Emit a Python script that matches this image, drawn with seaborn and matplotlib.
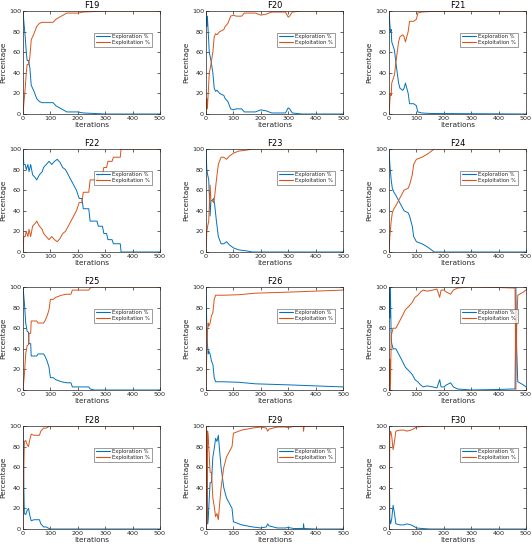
import matplotlib
matplotlib.use("Agg")
import matplotlib.pyplot as plt
import seaborn as sns
import pandas as pd

# ---- data: exploration % breakpoints (iteration, value); exploitation = 100 - exploration
titles = ["F19", "F20", "F21", "F22", "F23", "F24", "F25", "F26", "F27", "F28", "F29", "F30"]

f19_it = [0, 3, 8, 12, 15, 20, 25, 30, 40, 50, 60, 70, 110, 120, 140, 160, 200, 220, 260, 300, 500]
f19_ex = [100, 90, 75, 60, 52, 52, 45, 28, 22, 15, 12, 11, 11, 8, 5, 2, 2, 1, 0.5, 0, 0]

f20_it = [0, 3, 5, 8, 12, 18, 25, 30, 35, 40, 50, 65, 70, 80, 90, 100, 110, 130, 140, 180, 190, 200, 220, 240, 290, 300, 305, 315, 350, 500]
f20_ex = [100, 85, 95, 80, 60, 52, 40, 25, 22, 23, 20, 18, 15, 12, 5, 4, 5, 5, 2, 2, 3, 4, 3, 1, 1, 6, 5, 1, 0, 0]

f21_it = [0, 5, 8, 10, 15, 20, 25, 30, 35, 40, 50, 55, 60, 65, 70, 75, 90, 100, 105, 120, 150, 500]
f21_ex = [100, 80, 82, 70, 66, 62, 50, 40, 30, 25, 23, 25, 30, 25, 20, 10, 10, 8, 2, 1, 0.5, 0]

f22_it = [0, 3, 8, 12, 18, 22, 28, 35, 45, 50, 60, 70, 75, 85, 95, 105, 115, 125, 135, 145, 155, 165, 175, 185, 195, 205, 215, 220, 240, 245, 270, 275, 290, 295, 305, 310, 325, 330, 355, 358, 500]
f22_ex = [100, 85, 85, 80, 85, 78, 85, 75, 72, 70, 75, 78, 82, 85, 88, 85, 88, 90, 87, 82, 80, 75, 70, 65, 60, 52, 52, 42, 42, 30, 30, 25, 25, 18, 18, 12, 12, 8, 8, 0, 0]

f23_it = [0, 3, 6, 10, 15, 18, 22, 28, 32, 38, 45, 55, 65, 75, 85, 100, 120, 150, 170, 500]
f23_ex = [100, 80, 75, 70, 35, 50, 50, 52, 45, 30, 15, 8, 8, 10, 7, 4, 2, 1, 0, 0]

f24_it = [0, 3, 8, 12, 18, 25, 35, 45, 55, 70, 75, 85, 90, 100, 120, 140, 150, 160, 165, 500]
f24_ex = [100, 85, 70, 62, 58, 55, 50, 45, 40, 38, 35, 25, 15, 10, 8, 5, 3, 1, 0, 0]

f25_it = [0, 5, 10, 15, 20, 22, 28, 30, 50, 55, 75, 80, 88, 95, 100, 110, 120, 140, 160, 175, 180, 240, 245, 260, 500]
f25_ex = [100, 85, 65, 57, 56, 45, 45, 33, 33, 35, 35, 33, 28, 22, 12, 12, 10, 8, 7, 7, 3, 3, 1, 0, 0]

f26_it = [0, 3, 5, 8, 10, 15, 20, 25, 30, 35, 60, 120, 180, 300, 400, 500]
f26_ex = [100, 60, 45, 35, 38, 35, 28, 25, 12, 8, 8, 7.5, 6, 5, 4, 3]

f27_it = [0, 3, 5, 8, 10, 15, 25, 35, 45, 60, 75, 85, 95, 105, 115, 125, 140, 160, 175, 185, 190, 200, 210, 225, 235, 250, 300, 400, 455, 460, 463, 466, 470, 490, 500]
f27_ex = [100, 70, 100, 50, 45, 40, 40, 35, 30, 22, 18, 15, 10, 8, 5, 3, 4, 3, 2, 10, 3, 3, 5, 7, 3, 1, 0, 0.5, 1, 1, 100, 40, 8, 5, 3]

f28_it = [0, 3, 5, 10, 15, 20, 25, 30, 40, 55, 60, 65, 75, 85, 95, 100, 500]
f28_ex = [100, 40, 15, 14, 18, 20, 13, 8, 9, 9, 9, 5, 2, 2, 0.5, 0, 0]

f29_it = [0, 2, 4, 6, 8, 15, 20, 25, 30, 35, 40, 45, 50, 55, 60, 65, 75, 85, 95, 100, 110, 130, 150, 170, 200, 220, 225, 230, 260, 290, 300, 320, 355, 356, 358, 400, 500]
f29_ex = [100, 0, 95, 5, 10, 45, 45, 70, 78, 88, 85, 91, 75, 60, 50, 40, 30, 25, 20, 7, 6, 4, 3, 2, 1, 2, 5, 3, 1, 1, 1.5, 0.5, 0.5, 5, 0.5, 0, 0]

f30_it = [0, 3, 6, 10, 15, 20, 25, 40, 55, 65, 80, 95, 100, 120, 150, 500]
f30_ex = [100, 10, 5, 10, 23, 15, 5, 4, 4, 5, 4, 2, 1, 0.5, 0, 0]

panels = [
    (f19_it, f19_ex), (f20_it, f20_ex), (f21_it, f21_ex),
    (f22_it, f22_ex), (f23_it, f23_ex), (f24_it, f24_ex),
    (f25_it, f25_ex), (f26_it, f26_ex), (f27_it, f27_ex),
    (f28_it, f28_ex), (f29_it, f29_ex), (f30_it, f30_ex),
]

x_ticks = [0, 100, 200, 300, 400, 500]
y_ticks = [0, 20, 40, 60, 80, 100]
series_names = ["Exploration %", "Exploitation %"]
colors = {"Exploration %": "#0072BD", "Exploitation %": "#D95319"}

# ---- style
sns.set_theme(style="white")
plt.rcParams.update({
    "font.family": ["DejaVu Sans"],
    "xtick.direction": "in",
    "ytick.direction": "in",
    "xtick.major.size": 2,
    "ytick.major.size": 2,
    "xtick.major.width": 0.5,
    "ytick.major.width": 0.5,
    "xtick.major.pad": 1.5,
    "ytick.major.pad": 1.5,
    "xtick.bottom": True,
    "ytick.left": True,
    "xtick.top": True,
    "ytick.right": True,
    "axes.edgecolor": "#262626",
    "axes.linewidth": 0.5,
})

W, H = 532, 550
fig = plt.figure(figsize=(W / 100, H / 100), dpi=100)

col_left = [23, 206, 389]
row_top = [11, 149, 287, 426]
ax_w, ax_h = 137, 103

for i, (it, ex) in enumerate(panels):
    r, c = divmod(i, 3)
    left = col_left[c] / W
    bottom = 1 - (row_top[r] + ax_h) / H
    ax = fig.add_axes([left, bottom, ax_w / W, ax_h / H])
    df = pd.DataFrame({
        "Iterations": list(it) + list(it),
        "Percentage": list(ex) + [100 - v for v in ex],
        "Series": [series_names[0]] * len(it) + [series_names[1]] * len(it),
    })
    sns.lineplot(data=df, x="Iterations", y="Percentage", hue="Series",
                 palette=colors, linewidth=0.7, sort=False, estimator=None,
                 ax=ax)
    ax.set_xlim(0, 500)
    ax.set_ylim(0, 100)
    ax.set_xticks(x_ticks)
    ax.set_yticks(y_ticks)
    ax.tick_params(labelsize=4.6, colors="#262626", length=2)
    ax.set_xlabel("Iterations", fontsize=5.3, labelpad=0.5, color="#262626")
    ax.set_ylabel("Percentage", fontsize=5.3, color="#262626")
    ax.yaxis.set_label_coords(-0.125, 0.5)
    ax.set_title(titles[i], fontsize=6, pad=2, color="#000000")
    for s in ax.spines.values():
        s.set_visible(True)
        s.set_linewidth(0.5)
    leg = ax.legend(loc="upper right", bbox_to_anchor=(0.94, 0.79),
                    fontsize=3.8, frameon=True, fancybox=False,
                    borderpad=0.3, handlelength=2.6, labelspacing=0.2,
                    handletextpad=0.5, borderaxespad=0)
    leg.get_frame().set_edgecolor("#262626")
    leg.get_frame().set_linewidth(0.4)
    for line in leg.get_lines():
        line.set_linewidth(0.8)

fig.savefig("out.png", dpi=100)
